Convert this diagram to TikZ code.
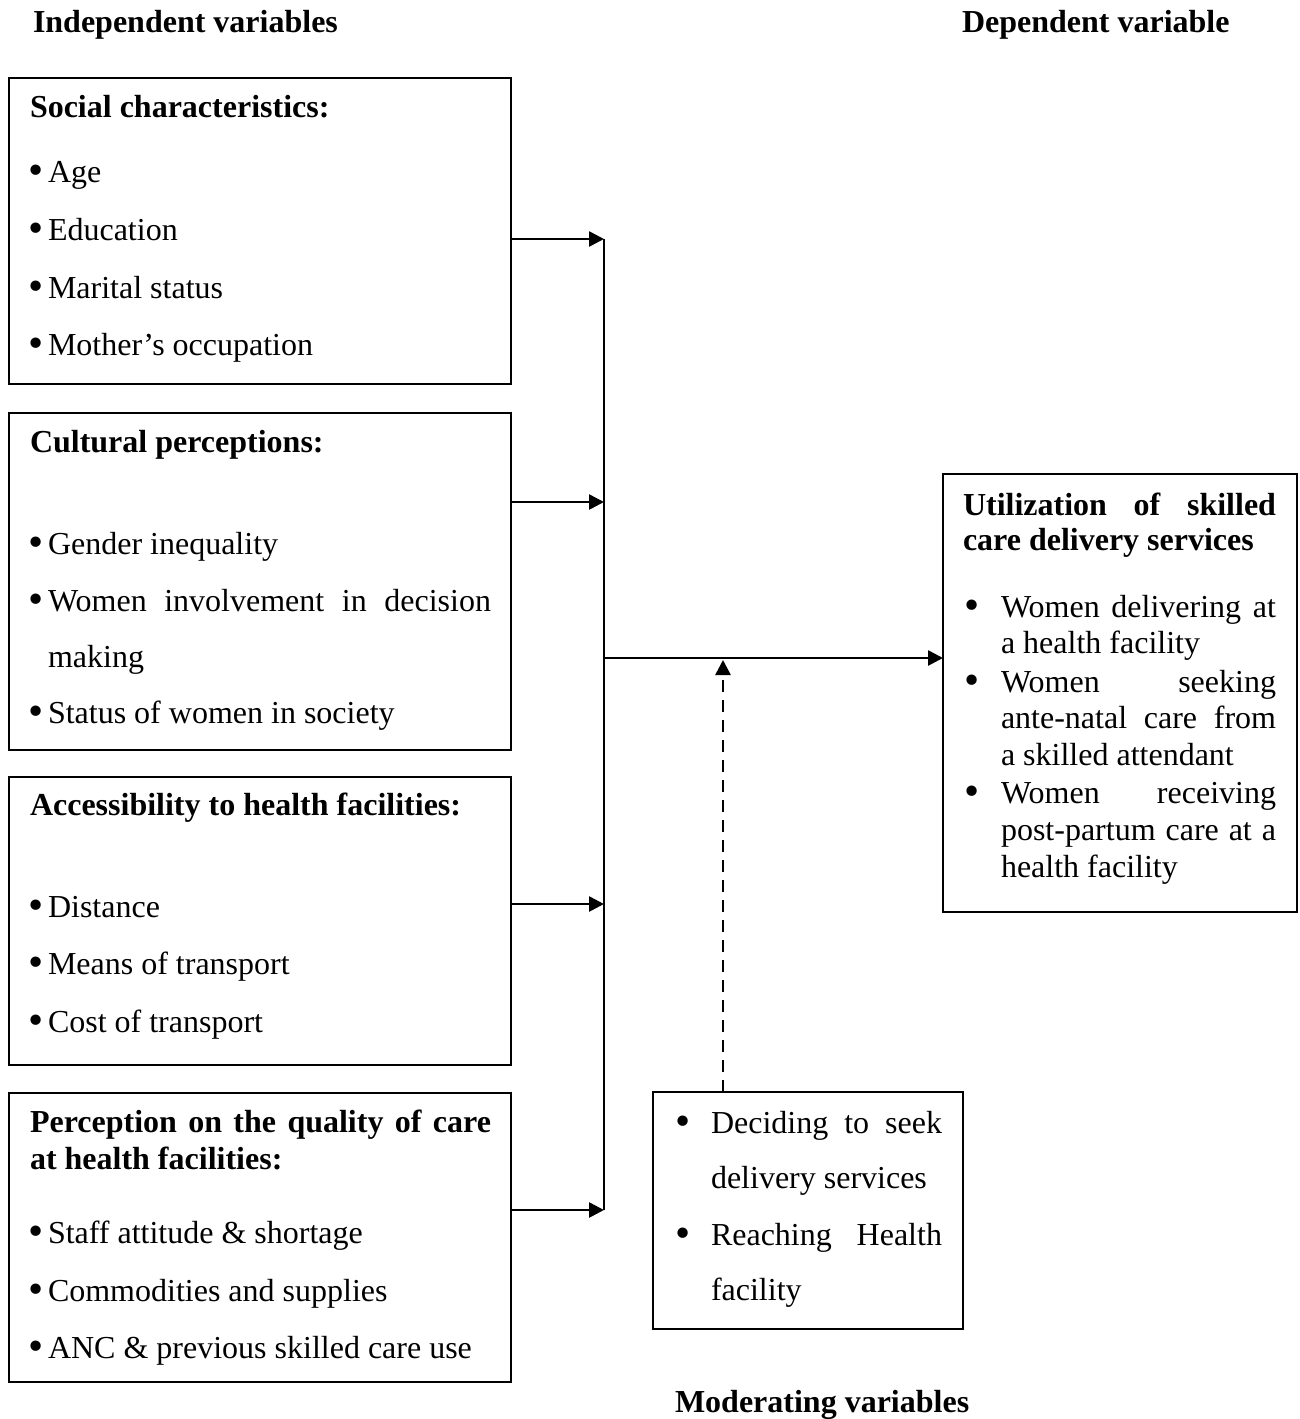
\documentclass[tikz,border=0pt]{standalone}
\usepackage{fontspec}
\usepackage{graphicx}
\setmainfont{Liberation Serif}
\usetikzlibrary{arrows.meta,fit}
\tikzset{
  txt/.style={anchor=base west, inner sep=0pt, outer sep=0pt, font=\fontsize{16}{19}\selectfont},
  hd/.style={anchor=base west, inner sep=0pt, outer sep=0pt, font=\fontsize{16}{19}\selectfont\bfseries},
  varbox/.style={draw, line width=1pt, inner sep=0pt, outer sep=0pt},
  conn/.style={line width=1.3pt, -{Triangle[length=7.5pt,width=7.5pt]}},
  bus/.style={line width=1pt},
  modarrow/.style={line width=1.3pt, dash pattern=on 6pt off 4pt, -{Triangle[length=7.5pt,width=7.5pt]}}
}
% bullet item line: name, bullet x, text x, baseline y, text
\newcommand\bigbul{\raisebox{-1.3pt}{\scalebox{1.35}{•}}}
\newcommand\bitem[5]{\node[txt] (#1b) at (#2,#4) {\bigbul}; \node[txt] (#1) at (#3,#4) {#5};}
\newcommand\stretchto[2]{\makebox[#1][s]{#2}}
\begin{document}
\begin{tikzpicture}[x=0.5pt,y=-0.5pt]
\useasboundingbox (0,0) rectangle (1300,1419);

% headings
\node[hd] (hiv) at (33,32) {Independent variables};
\node[hd] (hdv) at (962,32) {Dependent variable};
\node[hd] (hmv) at (675,1412) {Moderating variables};

% box 1
\node[varbox, fit={(9,78) (511,384)}] (b1) {};
\node[hd] (b1h) at (30,117) {Social characteristics:};
\bitem{b1i1}{28}{48}{182}{Age}
\bitem{b1i2}{28}{48}{240}{Education}
\bitem{b1i3}{28}{48}{298}{Marital status}
\bitem{b1i4}{28}{48}{355}{Mother’s occupation}

% box 2
\node[varbox, fit={(9,413) (511,750)}] (b2) {};
\node[hd] (b2h) at (30,452) {Cultural perceptions:};
\bitem{b2i1}{28}{48}{554}{Gender inequality}
\bitem{b2i2}{28}{48}{611}{\stretchto{221.5pt}{Women involvement in decision}}
\node[txt] (b2i2c) at (48,667) {making};
\bitem{b2i3}{28}{48}{723}{Status of women in society}

% box 3
\node[varbox, fit={(9,777) (511,1065)}] (b3) {};
\node[hd] (b3h) at (30,815) {Accessibility to health facilities:};
\bitem{b3i1}{28}{48}{917}{Distance}
\bitem{b3i2}{28}{48}{974}{Means of transport}
\bitem{b3i3}{28}{48}{1032}{Cost of transport}

% box 4
\node[varbox, fit={(9,1093) (511,1382)}] (b4) {};
\node[hd] (b4h) at (30,1132) {\stretchto{230.5pt}{Perception on the quality of care}};
\node[hd] (b4h2) at (30,1169) {at health facilities:};
\bitem{b4i1}{28}{48}{1243}{Staff attitude \& shortage}
\bitem{b4i2}{28}{48}{1301}{Commodities and supplies}
\bitem{b4i3}{28}{48}{1358}{ANC \& previous skilled care use}

% dependent variable box
\node[varbox, fit={(943,474) (1297,912)}] (ub) {};
\node[hd] (ubh) at (963,515) {\stretchto{156.5pt}{Utilization of skilled}};
\node[hd] (ubh2) at (963,550) {care delivery services};
\bitem{ub1}{964}{1001}{617}{\stretchto{137.5pt}{Women delivering at}}
\node[txt] (ub1c) at (1001,653) {a health facility};
\bitem{ub2}{964}{1001}{692}{\stretchto{137.5pt}{Women seeking}}
\node[txt] (ub2c) at (1001,728) {\stretchto{137.5pt}{ante-natal care from}};
\node[txt] (ub2d) at (1001,765) {a skilled attendant};
\bitem{ub3}{964}{1001}{803}{\stretchto{137.5pt}{Women receiving}}
\node[txt] (ub3c) at (1001,840) {\stretchto{137.5pt}{post-partum care at a}};
\node[txt] (ub3d) at (1001,877) {health facility};

% moderating box
\node[varbox, fit={(653,1092) (963,1329)}] (mb) {};
\bitem{mb1}{675}{711}{1133}{\stretchto{115.5pt}{Deciding to seek}}
\node[txt] (mb1c) at (711,1188) {delivery services};
\bitem{mb2}{675}{711}{1245}{\stretchto{115.5pt}{Reaching Health}}
\node[txt] (mb2c) at (711,1300) {facility};

% connectors
\coordinate (j1) at (604,239);
\coordinate (j2) at (604,502);
\coordinate (j3) at (604,904);
\coordinate (j4) at (604,1210);
\coordinate (jm) at (604,658);
\coordinate (dt) at (723,660);
\draw[bus] (j1) -- (j4);
\draw[conn] (b1.east |- j1) -- (j1);
\draw[conn] (b2.east |- j2) -- (j2);
\draw[conn] (b3.east |- j3) -- (j3);
\draw[conn] (b4.east |- j4) -- (j4);
\draw[conn] (jm) -- (ub.west |- jm);
\draw[modarrow] (mb.north -| dt) -- (dt);
\end{tikzpicture}
\end{document}
